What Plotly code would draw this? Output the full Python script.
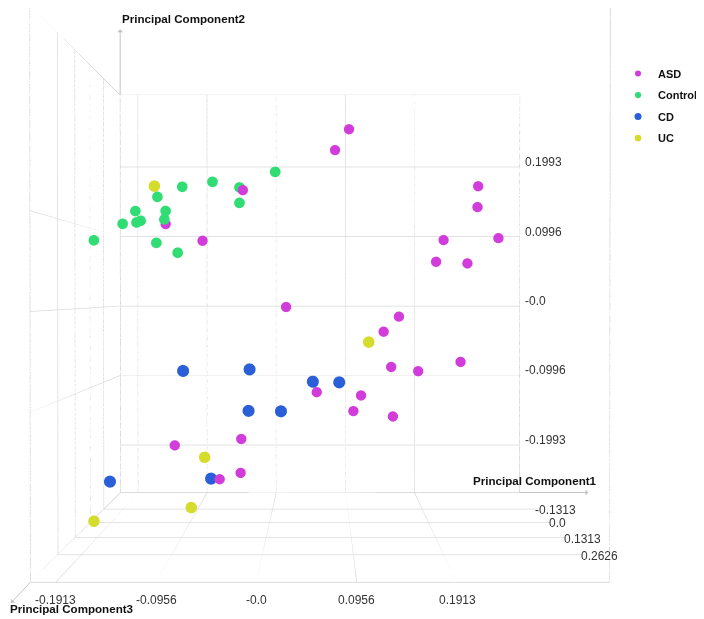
import plotly.graph_objects as go

# ---------------- data ----------------
groups = ["ASD", "Control", "CD", "UC"]

asd_pc1 = [-0.0285, -0.1253, -0.0809, 0.0785, 0.0953, 0.2507, 0.2499, 0.2091, 0.2751,
           0.2001, 0.2378, 0.0196, 0.1554, 0.1370, 0.1461, 0.1786, 0.2296, 0.0565,
           0.1098, 0.1006, 0.1482, -0.1145, -0.0344, -0.0425, -0.0352]
asd_pc2 = [0.1416, 0.1047, 0.0839, 0.1969, 0.2229, 0.1519, 0.1259, 0.0848, 0.0872,
           0.0577, 0.0557, 0.0013, -0.0107, -0.0295, -0.0735, -0.0788, -0.0672, -0.1050,
           -0.1091, -0.1286, -0.1353, -0.1714, -0.1634, -0.1795, -0.2058]
asd_pc3 = [0.0859, -0.0026, -0.0026, -0.0026, -0.0026, -0.0026, -0.0026, -0.0026,
           -0.0026, -0.0026, -0.0026, -0.0026, -0.0026, -0.0026, -0.0026, -0.0026,
           -0.0026, -0.0026, -0.0026, -0.0026, -0.0026, -0.0026, -0.0026, 0.3116, -0.0026]

control_pc1 = [-0.1011, -0.0656, 0.0079, -0.0340, -0.1302, -0.0340, -0.1561, -0.1206,
               -0.1710, -0.1548, -0.1499, -0.1221, -0.2048, -0.1315, -0.1065]
control_pc2 = [0.1478, 0.1538, 0.1659, 0.1470, 0.1356, 0.1283, 0.1183, 0.1185,
               0.1028, 0.1045, 0.1065, 0.1082, 0.0828, 0.0797, 0.0677]
control_pc3 = [0.0513, 0.0513, 0.0513, 0.0513, 0.0513, 0.0513, 0.0513, 0.0513,
               0.0513, 0.0513, 0.0513, 0.0513, 0.0513, 0.0513, 0.0513]

cd_pc1 = [-0.0854, -0.0146, 0.0528, 0.0809, -0.0157, 0.0188, -0.1634, -0.0557]
cd_pc2 = [-0.0674, -0.0657, -0.0793, -0.0800, -0.1115, -0.1120, -0.1897, -0.1864]
cd_pc3 = [0.2421, 0.2421, 0.2421, 0.2421, 0.2421, 0.2421, 0.2421, 0.2421]

uc_pc1 = [-0.1229, 0.1144, -0.0674, -0.0823, -0.1901]
uc_pc2 = [0.1413, -0.0377, -0.1700, -0.2278, -0.2435]
uc_pc3 = [0.1671, 0.1671, 0.1671, 0.1671, 0.1671]

pc1_range = [-0.2157, 0.3368]
pc2_range = [-0.2676, 0.3022]
pc3_range = [-0.3205, 0.4401]

pc1_ticks = [-0.1913, -0.0956, 0.0, 0.0956, 0.1913]
pc1_ticktext = ["-0.1913", "-0.0956", "-0.0", "0.0956", "0.1913"]
pc2_ticks = [0.1993, 0.0996, 0.0, -0.0996, -0.1993]
pc2_ticktext = ["0.1993", "0.0996", "-0.0", "-0.0996", "-0.1993"]
pc3_ticks = [-0.1313, 0.0, 0.1313, 0.2626]
pc3_ticktext = ["-0.1313", "0.0", "0.1313", "0.2626"]

axis_titles = ["Principal Component1", "Principal Component2", "Principal Component3"]

# ---------------- styling ----------------
colors = {"ASD": "#D23CDA", "Control": "#30DC74", "CD": "#2A5FD8", "UC": "#D6DC2C"}
sizes = {"ASD": 6.0, "Control": 6.2, "CD": 7.0, "UC": 6.7}
FONT = "Liberation Sans, Arial, sans-serif"
GRID = "#DADADA"
EDGE = "#CFCFCF"

series = {
    "ASD": (asd_pc1, asd_pc2, asd_pc3),
    "Control": (control_pc1, control_pc2, control_pc3),
    "CD": (cd_pc1, cd_pc2, cd_pc3),
    "UC": (uc_pc1, uc_pc2, uc_pc3),
}

fig = go.Figure()


def seg_trace(segments, color, width):
    xs, ys, zs = [], [], []
    for (a, b) in segments:
        xs += [a[0], b[0], None]
        ys += [a[1], b[1], None]
        zs += [a[2], b[2], None]
    return go.Scatter3d(x=xs, y=ys, z=zs, mode="lines", line=dict(color=color, width=width),
                        hoverinfo="skip", showlegend=False)


x0, x1 = pc3_range   # depth (PC3)
y0, y1 = pc1_range   # horizontal (PC1)
z0, z1 = pc2_range   # vertical (PC2)

# grid on back wall, left wall and floor (at the tick values)
grid = []
for v in pc1_ticks:
    grid.append(((x0, v, z0), (x0, v, z1)))      # back wall verticals
    grid.append(((x0, v, z0), (x1, v, z0)))      # floor, running to the front
for v in pc2_ticks:
    grid.append(((x0, y0, v), (x0, y1, v)))      # back wall horizontals
    grid.append(((x0, y0, v), (x1, y0, v)))      # left wall
for v in pc3_ticks:
    grid.append(((v, y0, z0), (v, y0, z1)))      # left wall verticals
    grid.append(((v, y0, z0), (v, y1, z0)))      # floor across
fig.add_trace(seg_trace(grid, GRID, 1.5))

# box edges of the 3-D frame
edges = []
corners = [(a, b, c) for a in pc3_range for b in pc1_range for c in pc2_range]
for i in range(len(corners)):
    for j in range(i + 1, len(corners)):
        if sum(1 for k in range(3) if corners[i][k] != corners[j][k]) == 1:
            edges.append((corners[i], corners[j]))
fig.add_trace(seg_trace(edges, EDGE, 1.5))

for g in groups:
    p1, p2, p3 = series[g]
    fig.add_trace(go.Scatter3d(
        x=p3, y=p1, z=p2, mode="markers", name=g, legendgroup=g,
        marker=dict(size=sizes[g], color=colors[g], opacity=1, line=dict(width=0)),
    ))

tick_font = dict(family=FONT, size=12, color="#333333")
title_font = dict(family=FONT, size=11.6, color="#111111")
annotations = []
for v, t in zip(pc1_ticks, pc1_ticktext):
    annotations.append(dict(x=x1, y=v, z=z0, text=t, showarrow=False,
                            xanchor="center", yanchor="top", yshift=-9, font=tick_font))
for v, t in zip(pc2_ticks, pc2_ticktext):
    annotations.append(dict(x=x0, y=y1, z=v, text=t, showarrow=False,
                            xanchor="left", yanchor="middle", xshift=3, yshift=5, font=tick_font))
for v, t in zip(pc3_ticks, pc3_ticktext):
    annotations.append(dict(x=v, y=y1, z=z0, text=t, showarrow=False,
                            xanchor="left", yanchor="middle", xshift=-3, yshift=-1, font=tick_font))

arrow_style = dict(showarrow=True, arrowhead=5, arrowside="start", arrowsize=2.6,
                   arrowwidth=1, arrowcolor="#C4C4C4", text=" ")
# PC1 arrow + title
annotations.append(dict(x=x0, y=y1, z=z0, ax=72, ay=0, **arrow_style))
annotations.append(dict(x=x0, y=y1, z=z0, showarrow=False,
                        text="<b>" + axis_titles[0] + "</b>", xanchor="right", yanchor="middle",
                        xshift=80, yshift=12, font=title_font))
# PC2 arrow + title
annotations.append(dict(x=x0, y=y0, z=z1, ax=0, ay=-76, **arrow_style))
annotations.append(dict(x=x0, y=y0, z=z1, showarrow=False,
                        text="<b>" + axis_titles[1] + "</b>", xanchor="left", yanchor="middle",
                        xshift=0, yshift=77, font=title_font))
# PC3 arrow + title
annotations.append(dict(x=x1, y=y0, z=z0, ax=-24, ay=24, **arrow_style))
annotations.append(dict(x=x1, y=y0, z=z0, showarrow=False,
                        text="<b>" + axis_titles[2] + "</b>", xanchor="left", yanchor="middle",
                        xshift=-22, yshift=-26, font=title_font))

axis_common = dict(showbackground=False, showgrid=False, zeroline=False,
                   showline=False, showticklabels=False, ticks="", title=dict(text=""),
                   showspikes=False, tickmode="array")

fig.update_layout(
    width=704, height=619,
    margin=dict(l=0, r=0, t=0, b=0, autoexpand=False),
    paper_bgcolor="white",
    showlegend=True,
    legend=dict(x=0.8665, y=0.9176, xanchor="left", yanchor="top",
                font=dict(family=FONT, size=11, color="#111111", weight="bold"),
                bgcolor="rgba(0,0,0,0)", tracegroupgap=2.5),
    scene=dict(
        domain=dict(x=[0, 0.88636], y=[0.06947, 1]),
        xaxis=dict(range=pc3_range, tickvals=pc3_ticks, **axis_common),
        yaxis=dict(range=pc1_range, tickvals=pc1_ticks, **axis_common),
        zaxis=dict(range=pc2_range, tickvals=pc2_ticks, **axis_common),
        aspectmode="manual",
        aspectratio=dict(x=0.5423, y=1, z=0.995),
        camera=dict(eye=dict(x=1.47, y=0.0, z=0.0),
                    center=dict(x=0, y=0, z=-0.00423),
                    up=dict(x=0, y=0, z=1),
                    projection=dict(type="perspective")),
        annotations=annotations,
        bgcolor="white",
    ),
)

fig.write_html("out.html")
